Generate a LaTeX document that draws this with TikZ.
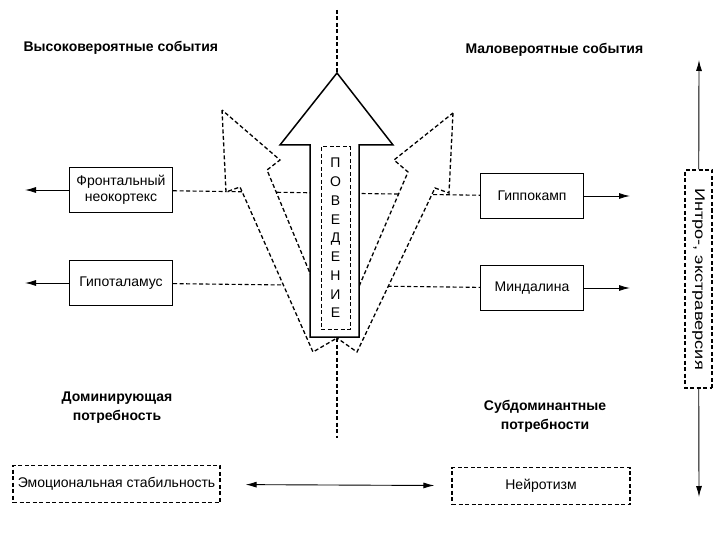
\documentclass[tikz,border=0pt]{standalone}
\usepackage{fontspec}
\setmainfont{Liberation Sans}
\newfontfamily\widesans[FakeStretch=1.3]{Liberation Sans}
\usetikzlibrary{positioning,arrows.meta}

\begin{document}
\begin{tikzpicture}[x=1pt, y=-1pt, >={Latex[length=11pt,width=6pt]},
  font=\fontsize{14}{16}\selectfont,
  unit/.style={draw, line width=1.4pt, minimum width=103pt, minimum height=45pt, align=center, inner sep=2pt},
  trait/.style={draw, dash pattern=on 4pt off 2.5pt, line width=1.2pt, minimum height=37pt, inner sep=2pt},
  head/.style={font=\fontsize{14}{19}\selectfont\bfseries, align=center},
  link/.style={dash pattern=on 4pt off 2.5pt, line width=1.1pt},
  flow/.style={link, fill=white, line width=1.3pt, line join=miter}]
  \useasboundingbox (0,0) rectangle (720,540);
  % headings
  \node[head, anchor=west] (hp) at (20,48) {Высоковероятные события};
  \node[head, anchor=west] (lp) at (462,50) {Маловероятные события};
  \node[head] (dn) at (117,408) {Доминирующая\\потребность};
  \node[head] (sn) at (545,416) {Субдоминантные\\потребности};
  % brain structures
  \node[unit] (fn) at (121,190) {Фронтальный\\неокортекс};
  \node[unit] (ht) at (121,283) {Гипоталамус};
  \node[unit] (hc) at (532,196) {Гиппокамп};
  \node[unit] (am) at (532,288) {Миндалина};
  \coordinate (fnL) at (25,190);
  \coordinate (htL) at (25,283);
  \coordinate (hcR) at (630,196);
  \coordinate (amR) at (630,288);
  \draw[->, line width=0.9pt] (fn) -- (fnL);
  \draw[->, line width=0.9pt] (ht) -- (htL);
  \draw[->, line width=0.9pt] (hc) -- (hcR);
  \draw[->, line width=0.9pt] (am) -- (amR);
  % traits
  \node[trait, minimum width=207pt] (es) at (116.5,484) {Эмоциональная стабильность};
  \node[trait, minimum width=178pt] (nr) at (541,486) {Нейротизм};
  \draw[<->, line width=0.9pt, shorten <=25pt, shorten >=17pt] (es) -- (nr);
  \node[trait, rotate=-90, minimum width=218pt, minimum height=27pt, font=\widesans\fontsize{14}{16}\selectfont] (ie) at (698.5,279) {Интро-, экстраверсия};
  \coordinate (ieT) at (699,60);
  \coordinate (ieB) at (699,497);
  \draw[->, line width=0.9pt] (ie) -- (ieT);
  \draw[->, line width=0.9pt] (ie) -- (ieB);
  % axes behind the arrows
  \coordinate (axT) at (337,10);
  \coordinate (apex) at (337,73);
  \coordinate (base) at (337,338);
  \coordinate (axB) at (337,438);
  \draw[link] (fn) -- (hc);
  \draw[link] (ht) -- (am);
  \draw[link] (axT) -- (apex);
  \draw[link] (base) -- (axB);
  % side arrows
  \draw[flow] (222,110) -- (226,192) -- (240,187) -- (313,352) -- (base)
    -- (267,170) -- (280,160) -- cycle;
  \draw[flow] (453,113) -- (449,193) -- (435,188) -- (357,352) -- (base)
    -- (408,172) -- (394,160) -- cycle;
  % behaviour arrow
  \draw[fill=white, line width=1.5pt, line join=miter] (apex) -- (393,145) -- (359,145)
    -- (359,337) -- (310,337) -- (310,145) -- (280,145) -- cycle;
  \node[draw, link, line width=1pt, minimum width=29pt, minimum height=182pt, align=center,
    inner sep=0pt, font=\fontsize{14}{18.75}\selectfont] (bh) at (335.5,238)
    {П\\О\\В\\Е\\Д\\Е\\Н\\И\\Е};
\end{tikzpicture}
\end{document}
